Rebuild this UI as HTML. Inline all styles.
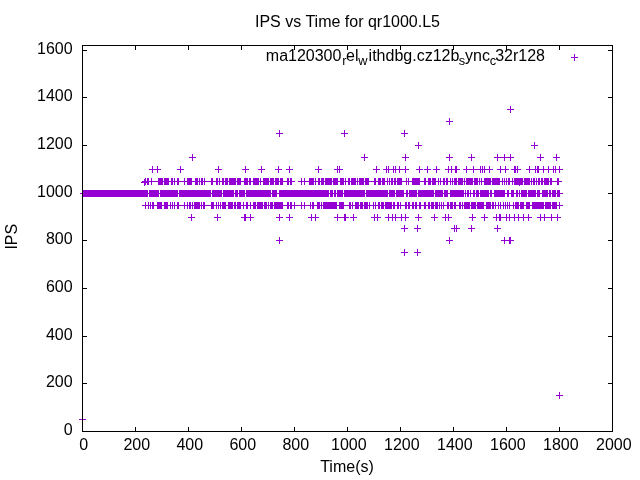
<!DOCTYPE html>
<html><head><meta charset="utf-8"><title>IPS vs Time</title>
<style>
html,body{margin:0;padding:0;background:#fff;}
svg{display:block;will-change:transform;}
text{font-family:"Liberation Sans",sans-serif;font-size:16px;fill:#000;}
</style></head><body>
<svg width="640" height="480" viewBox="0 0 640 480">
<rect x="0" y="0" width="640" height="480" fill="#fff"/>
<path d="M82.50 431.50h4.5M612.50 431.50h-4.5M82.50 383.50h4.5M612.50 383.50h-4.5M82.50 336.50h4.5M612.50 336.50h-4.5M82.50 288.50h4.5M612.50 288.50h-4.5M82.50 240.50h4.5M612.50 240.50h-4.5M82.50 193.50h4.5M612.50 193.50h-4.5M82.50 145.50h4.5M612.50 145.50h-4.5M82.50 97.50h4.5M612.50 97.50h-4.5M82.50 50.50h4.5M612.50 50.50h-4.5M82.50 431.50v-4.5M82.50 45.50v4.5M135.50 431.50v-4.5M135.50 45.50v4.5M188.50 431.50v-4.5M188.50 45.50v4.5M241.50 431.50v-4.5M241.50 45.50v4.5M294.50 431.50v-4.5M294.50 45.50v4.5M347.50 431.50v-4.5M347.50 45.50v4.5M400.50 431.50v-4.5M400.50 45.50v4.5M453.50 431.50v-4.5M453.50 45.50v4.5M506.50 431.50v-4.5M506.50 45.50v4.5M559.50 431.50v-4.5M559.50 45.50v4.5M612.50 431.50v-4.5M612.50 45.50v4.5" fill="none" stroke="#000" stroke-width="1"/>
<path id="pts" fill="#9400d3" stroke="none" shape-rendering="crispEdges" d="M574 54h1v3h-1zM574 58h1v3h-1zM571 57h7v1h-7zM510 106h1v3h-1zM510 110h1v3h-1zM510 154h1v3h-1zM510 158h1v3h-1zM507 109h7v1h-7zM449 118h1v3h-1zM449 122h1v3h-1zM449 154h1v3h-1zM449 158h1v3h-1zM449 237h1v3h-1zM449 241h1v3h-1zM446 121h7v1h-7zM446 157h7v1h-7zM446 240h7v1h-7zM279 130h1v3h-1zM279 134h1v3h-1zM279 214h1v3h-1zM279 218h1v3h-1zM279 237h1v3h-1zM279 241h1v3h-1zM344 130h1v3h-1zM344 134h1v3h-1zM404 130h1v3h-1zM404 134h1v3h-1zM404 225h1v3h-1zM404 229h1v3h-1zM404 249h1v3h-1zM404 253h1v3h-1zM276 133h7v1h-7zM276 217h7v1h-7zM276 240h7v1h-7zM341 133h7v1h-7zM401 133h7v1h-7zM401 228h7v1h-7zM401 252h7v1h-7zM418 142h1v3h-1zM418 146h1v3h-1zM418 214h1v3h-1zM418 218h1v3h-1zM534 142h1v3h-1zM534 146h1v3h-1zM415 145h7v1h-7zM415 217h7v1h-7zM531 145h7v1h-7zM192 154h1v3h-1zM192 158h1v3h-1zM192 202h1v3h-1zM192 206h1v3h-1zM364 154h1v3h-1zM364 158h1v3h-1zM405 154h1v3h-1zM405 158h1v3h-1zM405 166h1v3h-1zM405 170h1v3h-1zM405 214h1v3h-1zM405 218h1v3h-1zM471 154h1v3h-1zM471 158h1v3h-1zM471 225h1v3h-1zM471 229h1v3h-1zM497 154h1v3h-1zM497 158h1v3h-1zM497 225h1v3h-1zM497 229h1v3h-1zM504 154h1v3h-1zM504 158h1v3h-1zM504 178h1v3h-1zM504 182h1v3h-1zM504 237h1v3h-1zM504 241h1v3h-1zM540 154h1v3h-1zM540 158h1v3h-1zM540 214h1v3h-1zM540 218h1v3h-1zM556 154h1v3h-1zM556 158h1v3h-1zM189 157h7v1h-7zM361 157h7v1h-7zM402 157h7v1h-7zM468 157h7v1h-7zM468 228h7v1h-7zM494 157h20v1h-20zM537 157h7v1h-7zM553 157h7v1h-7zM152 166h1v3h-1zM152 170h1v3h-1zM157 166h1v3h-1zM157 170h1v3h-1zM180 166h1v3h-1zM180 170h1v3h-1zM218 166h1v3h-1zM218 170h1v3h-1zM218 202h1v3h-1zM218 206h1v3h-1zM245 166h1v3h-1zM245 170h1v3h-1zM261 166h1v3h-1zM261 170h1v3h-1zM278 166h1v3h-1zM278 170h1v3h-1zM289 166h1v3h-1zM289 170h1v3h-1zM289 214h1v3h-1zM289 218h1v3h-1zM318 166h1v3h-1zM318 170h1v3h-1zM337 166h1v3h-1zM337 170h1v3h-1zM337 214h1v3h-1zM337 218h1v3h-1zM339 166h1v3h-1zM339 170h1v3h-1zM376 166h1v3h-1zM376 170h1v3h-1zM386 166h1v3h-1zM386 170h1v3h-1zM388 166h1v3h-1zM388 170h1v3h-1zM388 214h1v3h-1zM388 218h1v3h-1zM393 166h1v3h-1zM393 170h1v3h-1zM395 166h1v3h-1zM395 170h1v3h-1zM395 214h1v3h-1zM395 218h1v3h-1zM399 166h1v3h-1zM399 170h1v3h-1zM419 166h1v3h-1zM419 170h1v3h-1zM427 166h1v3h-1zM427 170h1v3h-1zM436 166h1v3h-1zM436 170h1v3h-1zM448 166h1v3h-1zM448 170h1v3h-1zM448 214h1v3h-1zM448 218h1v3h-1zM451 166h1v3h-1zM451 170h1v3h-1zM455 166h2v3h-2zM455 170h2v3h-2zM466 166h1v3h-1zM466 170h1v3h-1zM473 166h1v3h-1zM473 170h1v3h-1zM480 166h1v3h-1zM480 170h1v3h-1zM482 166h1v3h-1zM482 170h1v3h-1zM484 166h1v3h-1zM484 170h1v3h-1zM484 214h1v3h-1zM484 218h1v3h-1zM489 166h1v3h-1zM489 170h1v3h-1zM500 166h1v3h-1zM500 170h1v3h-1zM500 202h1v3h-1zM500 206h1v3h-1zM505 166h1v3h-1zM505 170h1v3h-1zM505 202h1v3h-1zM505 206h1v3h-1zM514 166h2v3h-2zM514 170h2v3h-2zM517 166h1v3h-1zM517 170h1v3h-1zM529 166h1v3h-1zM529 170h1v3h-1zM535 166h1v3h-1zM535 170h1v3h-1zM537 166h2v3h-2zM537 170h2v3h-2zM543 166h1v3h-1zM543 170h1v3h-1zM548 166h1v3h-1zM548 170h1v3h-1zM553 166h1v3h-1zM553 170h1v3h-1zM555 166h1v3h-1zM555 170h1v3h-1zM559 166h1v3h-1zM559 170h1v3h-1zM559 202h1v3h-1zM559 206h1v3h-1zM559 392h1v3h-1zM559 396h1v3h-1zM149 169h12v1h-12zM177 169h7v1h-7zM215 169h7v1h-7zM242 169h7v1h-7zM258 169h7v1h-7zM275 169h7v1h-7zM286 169h7v1h-7zM286 217h7v1h-7zM315 169h7v1h-7zM334 169h9v1h-9zM373 169h7v1h-7zM383 169h26v1h-26zM416 169h7v1h-7zM424 169h7v1h-7zM433 169h7v1h-7zM445 169h15v1h-15zM463 169h30v1h-30zM497 169h12v1h-12zM511 169h10v1h-10zM526 169h37v1h-37zM145 178h1v1h-1zM145 202h1v3h-1zM145 206h1v3h-1zM147 178h2v3h-2zM147 183h2v2h-2zM151 178h1v3h-1zM151 182h1v3h-1zM158 178h5v3h-5zM158 182h5v3h-5zM164 178h5v3h-5zM164 182h5v3h-5zM171 178h2v3h-2zM171 182h2v3h-2zM174 178h1v3h-1zM174 182h1v3h-1zM174 202h1v3h-1zM174 206h1v3h-1zM177 178h2v3h-2zM177 182h2v3h-2zM177 202h2v3h-2zM177 206h2v3h-2zM184 178h1v3h-1zM184 182h1v3h-1zM184 202h1v3h-1zM184 206h1v3h-1zM187 178h5v3h-5zM187 182h5v3h-5zM195 178h3v3h-3zM195 182h3v3h-3zM199 178h1v3h-1zM199 182h1v3h-1zM201 178h2v3h-2zM201 182h2v3h-2zM204 178h1v3h-1zM204 182h1v3h-1zM211 178h2v3h-2zM211 182h2v3h-2zM216 178h2v3h-2zM216 182h2v3h-2zM219 178h1v3h-1zM219 182h1v3h-1zM222 178h2v3h-2zM222 182h2v3h-2zM225 178h3v3h-3zM225 182h3v3h-3zM229 178h7v3h-7zM229 182h7v3h-7zM237 178h4v3h-4zM237 182h4v3h-4zM237 202h4v3h-4zM237 206h4v3h-4zM244 178h4v3h-4zM244 182h4v3h-4zM249 178h2v3h-2zM249 182h2v3h-2zM253 178h6v3h-6zM253 182h6v3h-6zM260 178h1v3h-1zM260 182h1v3h-1zM263 178h6v3h-6zM263 182h6v3h-6zM270 178h4v3h-4zM270 182h4v3h-4zM275 178h4v3h-4zM275 182h4v3h-4zM280 178h3v3h-3zM280 182h3v3h-3zM287 178h2v3h-2zM287 182h2v3h-2zM287 202h2v3h-2zM287 206h2v3h-2zM290 178h2v3h-2zM290 182h2v3h-2zM290 202h2v3h-2zM290 206h2v3h-2zM301 178h1v3h-1zM301 182h1v3h-1zM301 202h1v3h-1zM301 206h1v3h-1zM304 178h1v3h-1zM304 182h1v3h-1zM304 202h1v3h-1zM304 206h1v3h-1zM309 178h5v3h-5zM309 182h5v3h-5zM315 178h1v3h-1zM315 182h1v3h-1zM315 214h1v3h-1zM315 218h1v3h-1zM318 178h2v3h-2zM318 182h2v3h-2zM321 178h3v3h-3zM321 182h3v3h-3zM325 178h7v3h-7zM325 182h7v3h-7zM333 178h5v3h-5zM333 182h5v3h-5zM340 178h4v3h-4zM340 182h4v3h-4zM345 178h1v3h-1zM345 182h1v3h-1zM348 178h2v3h-2zM348 182h2v3h-2zM351 178h5v3h-5zM351 182h5v3h-5zM357 178h1v3h-1zM357 182h1v3h-1zM359 178h5v3h-5zM359 182h5v3h-5zM365 178h4v3h-4zM365 182h4v3h-4zM374 178h2v3h-2zM374 182h2v3h-2zM378 178h3v3h-3zM378 182h3v3h-3zM382 178h3v3h-3zM382 182h3v3h-3zM387 178h1v3h-1zM387 182h1v3h-1zM389 178h1v3h-1zM389 182h1v3h-1zM391 178h2v3h-2zM391 182h2v3h-2zM394 178h2v3h-2zM394 182h2v3h-2zM397 178h5v3h-5zM397 182h5v3h-5zM406 178h1v3h-1zM406 182h1v3h-1zM408 178h1v3h-1zM408 182h1v3h-1zM412 178h8v3h-8zM412 182h8v3h-8zM424 178h2v3h-2zM424 182h2v3h-2zM424 202h2v3h-2zM424 206h2v3h-2zM428 178h3v3h-3zM428 182h3v3h-3zM432 178h4v3h-4zM432 182h4v3h-4zM438 178h1v3h-1zM438 182h1v3h-1zM440 178h1v3h-1zM440 182h1v3h-1zM443 178h2v3h-2zM443 182h2v3h-2zM446 178h2v3h-2zM446 182h2v3h-2zM450 178h1v3h-1zM450 182h1v3h-1zM452 178h1v3h-1zM452 182h1v3h-1zM454 178h3v3h-3zM454 182h3v3h-3zM458 178h5v3h-5zM458 182h5v3h-5zM464 178h1v3h-1zM464 182h1v3h-1zM466 178h7v3h-7zM466 182h7v3h-7zM474 178h4v3h-4zM474 182h4v3h-4zM479 178h1v3h-1zM479 182h1v3h-1zM481 178h1v3h-1zM481 182h1v3h-1zM484 178h7v3h-7zM484 182h7v3h-7zM492 178h8v3h-8zM492 182h8v3h-8zM502 178h1v3h-1zM502 182h1v3h-1zM506 178h1v3h-1zM506 182h1v3h-1zM506 214h1v3h-1zM506 218h1v3h-1zM508 178h2v3h-2zM508 182h2v3h-2zM512 178h1v3h-1zM512 182h1v3h-1zM514 178h9v3h-9zM514 182h9v3h-9zM524 178h6v3h-6zM524 182h6v3h-6zM531 178h1v3h-1zM531 182h1v3h-1zM533 178h2v3h-2zM533 182h2v3h-2zM536 178h1v3h-1zM536 182h1v3h-1zM538 178h2v3h-2zM538 182h2v3h-2zM541 178h2v3h-2zM541 182h2v3h-2zM544 178h5v3h-5zM544 182h5v3h-5zM550 178h2v3h-2zM550 182h2v3h-2zM557 178h2v3h-2zM557 182h2v3h-2zM144 179h2v2h-2zM144 183h2v2h-2zM142 181h153v1h-153zM298 181h264v1h-264zM141 182h8v1h-8zM144 185h1v1h-1zM519 185h1v1h-1zM519 190h1v3h-1zM519 194h1v3h-1zM83 190h65v3h-65zM83 194h65v3h-65zM149 190h10v3h-10zM149 194h10v3h-10zM160 190h18v3h-18zM160 194h18v3h-18zM179 190h32v3h-32zM179 194h32v3h-32zM212 190h10v3h-10zM212 194h10v3h-10zM223 190h11v3h-11zM223 194h11v3h-11zM235 190h3v3h-3zM235 194h3v3h-3zM239 190h6v3h-6zM239 194h6v3h-6zM246 190h25v3h-25zM246 194h25v3h-25zM272 190h5v3h-5zM272 194h5v3h-5zM279 190h50v3h-50zM279 194h50v3h-50zM330 190h3v3h-3zM330 194h3v3h-3zM334 190h2v3h-2zM334 194h2v3h-2zM337 190h6v3h-6zM337 194h6v3h-6zM344 190h21v3h-21zM344 194h21v3h-21zM366 190h22v3h-22zM366 194h22v3h-22zM389 190h6v3h-6zM389 194h6v3h-6zM396 190h8v3h-8zM396 194h8v3h-8zM406 190h2v3h-2zM406 194h2v3h-2zM409 190h8v3h-8zM409 194h8v3h-8zM418 190h16v3h-16zM418 194h16v3h-16zM435 190h8v3h-8zM435 194h8v3h-8zM444 190h4v3h-4zM444 194h4v3h-4zM450 190h14v3h-14zM450 194h14v3h-14zM465 190h1v3h-1zM465 194h1v3h-1zM467 190h2v3h-2zM467 194h2v3h-2zM470 190h1v3h-1zM470 194h1v3h-1zM473 190h2v3h-2zM473 194h2v3h-2zM476 190h3v3h-3zM476 194h3v3h-3zM480 190h9v3h-9zM480 194h9v3h-9zM490 190h2v3h-2zM490 194h2v3h-2zM494 190h11v3h-11zM494 194h11v3h-11zM507 190h2v3h-2zM507 194h2v3h-2zM511 190h3v3h-3zM511 194h3v3h-3zM516 190h2v3h-2zM516 194h2v3h-2zM521 190h6v3h-6zM521 194h6v3h-6zM528 190h8v3h-8zM528 194h8v3h-8zM537 190h3v3h-3zM537 194h3v3h-3zM542 190h6v3h-6zM542 194h6v3h-6zM549 190h2v3h-2zM549 194h2v3h-2zM552 190h4v3h-4zM552 194h4v3h-4zM557 190h3v3h-3zM557 194h3v3h-3zM80 193h483v1h-483zM148 202h1v3h-1zM148 206h1v3h-1zM150 202h1v3h-1zM150 206h1v3h-1zM152 202h2v3h-2zM152 206h2v3h-2zM157 202h5v3h-5zM157 206h5v3h-5zM164 202h4v3h-4zM164 206h4v3h-4zM170 202h1v3h-1zM170 206h1v3h-1zM172 202h1v3h-1zM172 206h1v3h-1zM187 202h1v3h-1zM187 206h1v3h-1zM189 202h2v3h-2zM189 206h2v3h-2zM194 202h6v3h-6zM194 206h6v3h-6zM201 202h1v3h-1zM201 206h1v3h-1zM203 202h2v3h-2zM203 206h2v3h-2zM211 202h3v3h-3zM211 206h3v3h-3zM216 202h1v3h-1zM216 206h1v3h-1zM220 202h1v3h-1zM220 206h1v3h-1zM222 202h4v3h-4zM222 206h4v3h-4zM228 202h5v3h-5zM228 206h5v3h-5zM234 202h2v3h-2zM234 206h2v3h-2zM243 202h1v3h-1zM243 206h1v3h-1zM246 202h2v3h-2zM246 206h2v3h-2zM250 202h1v3h-1zM250 206h1v3h-1zM250 214h1v3h-1zM250 218h1v3h-1zM253 202h3v3h-3zM253 206h3v3h-3zM257 202h6v3h-6zM257 206h6v3h-6zM264 202h3v3h-3zM264 206h3v3h-3zM268 202h1v3h-1zM268 206h1v3h-1zM270 202h3v3h-3zM270 206h3v3h-3zM274 202h9v3h-9zM274 206h9v3h-9zM294 202h1v3h-1zM294 206h1v3h-1zM310 202h1v3h-1zM310 206h1v3h-1zM312 202h2v3h-2zM312 206h2v3h-2zM317 202h3v3h-3zM317 206h3v3h-3zM321 202h1v3h-1zM321 206h1v3h-1zM323 202h14v3h-14zM323 206h14v3h-14zM339 202h5v3h-5zM339 206h5v3h-5zM349 202h2v3h-2zM349 206h2v3h-2zM352 202h1v3h-1zM352 206h1v3h-1zM355 202h4v3h-4zM355 206h4v3h-4zM360 202h3v3h-3zM360 206h3v3h-3zM364 202h4v3h-4zM364 206h4v3h-4zM369 202h1v3h-1zM369 206h1v3h-1zM373 202h1v3h-1zM373 206h1v3h-1zM375 202h1v3h-1zM375 206h1v3h-1zM378 202h2v3h-2zM378 206h2v3h-2zM381 202h3v3h-3zM381 206h3v3h-3zM385 202h7v3h-7zM385 206h7v3h-7zM393 202h2v3h-2zM393 206h2v3h-2zM397 202h2v3h-2zM397 206h2v3h-2zM400 202h1v3h-1zM400 206h1v3h-1zM405 202h2v3h-2zM405 206h2v3h-2zM408 202h2v3h-2zM408 206h2v3h-2zM412 202h2v3h-2zM412 206h2v3h-2zM415 202h2v3h-2zM415 206h2v3h-2zM419 202h2v3h-2zM419 206h2v3h-2zM428 202h2v3h-2zM428 206h2v3h-2zM431 202h3v3h-3zM431 206h3v3h-3zM435 202h3v3h-3zM435 206h3v3h-3zM439 202h1v3h-1zM439 206h1v3h-1zM441 202h1v3h-1zM441 206h1v3h-1zM443 202h1v3h-1zM443 206h1v3h-1zM447 202h2v3h-2zM447 206h2v3h-2zM450 202h3v3h-3zM450 206h3v3h-3zM454 202h2v3h-2zM454 206h2v3h-2zM459 202h2v3h-2zM459 206h2v3h-2zM462 202h1v3h-1zM462 206h1v3h-1zM464 202h6v3h-6zM464 206h6v3h-6zM471 202h5v3h-5zM471 206h5v3h-5zM477 202h7v3h-7zM477 206h7v3h-7zM486 202h5v3h-5zM486 206h5v3h-5zM492 202h2v3h-2zM492 206h2v3h-2zM495 202h1v3h-1zM495 206h1v3h-1zM498 202h1v3h-1zM498 206h1v3h-1zM503 202h1v3h-1zM503 206h1v3h-1zM507 202h1v3h-1zM507 206h1v3h-1zM509 202h1v3h-1zM509 206h1v3h-1zM509 214h1v3h-1zM509 218h1v3h-1zM513 202h1v3h-1zM513 206h1v3h-1zM515 202h4v3h-4zM515 206h4v3h-4zM520 202h4v3h-4zM520 206h4v3h-4zM526 202h4v3h-4zM526 206h4v3h-4zM532 202h12v3h-12zM532 206h12v3h-12zM545 202h6v3h-6zM545 206h6v3h-6zM552 202h5v3h-5zM552 206h5v3h-5zM142 205h421v1h-421zM191 214h1v3h-1zM191 218h1v3h-1zM217 214h1v3h-1zM217 218h1v3h-1zM244 214h2v3h-2zM244 218h2v3h-2zM311 214h1v3h-1zM311 218h1v3h-1zM344 214h2v3h-2zM344 218h2v3h-2zM353 214h1v3h-1zM353 218h1v3h-1zM374 214h1v3h-1zM374 218h1v3h-1zM377 214h1v3h-1zM377 218h1v3h-1zM392 214h1v3h-1zM392 218h1v3h-1zM401 214h1v3h-1zM401 218h1v3h-1zM434 214h1v3h-1zM434 218h1v3h-1zM445 214h1v3h-1zM445 218h1v3h-1zM472 214h1v3h-1zM472 218h1v3h-1zM496 214h1v3h-1zM496 218h1v3h-1zM499 214h2v3h-2zM499 218h2v3h-2zM514 214h1v3h-1zM514 218h1v3h-1zM518 214h1v3h-1zM518 218h1v3h-1zM523 214h1v3h-1zM523 218h1v3h-1zM528 214h1v3h-1zM528 218h1v3h-1zM544 214h1v3h-1zM544 218h1v3h-1zM551 214h1v3h-1zM551 218h1v3h-1zM557 214h1v3h-1zM557 218h1v3h-1zM188 217h7v1h-7zM214 217h7v1h-7zM241 217h13v1h-13zM308 217h11v1h-11zM334 217h15v1h-15zM350 217h7v1h-7zM371 217h10v1h-10zM385 217h24v1h-24zM431 217h7v1h-7zM442 217h10v1h-10zM469 217h7v1h-7zM481 217h7v1h-7zM493 217h39v1h-39zM537 217h24v1h-24zM417 225h1v3h-1zM417 229h1v3h-1zM417 249h1v3h-1zM417 253h1v3h-1zM454 225h1v3h-1zM454 229h1v3h-1zM456 225h1v3h-1zM456 229h1v3h-1zM414 228h7v1h-7zM414 252h7v1h-7zM451 228h9v1h-9zM494 228h7v1h-7zM509 237h2v3h-2zM509 241h2v3h-2zM501 240h13v1h-13zM556 395h7v1h-7zM82 416h1v3h-1zM82 420h1v3h-1zM79 419h7v1h-7z"/>
<rect x="82.5" y="45.5" width="530.0" height="386.0" fill="none" stroke="#000" stroke-width="1"/>
<text x="72.6" y="435.00" text-anchor="end">0</text>
<text x="72.6" y="387.00" text-anchor="end">200</text>
<text x="72.6" y="340.00" text-anchor="end">400</text>
<text x="72.6" y="292.00" text-anchor="end">600</text>
<text x="72.6" y="244.00" text-anchor="end">800</text>
<text x="72.6" y="197.00" text-anchor="end">1000</text>
<text x="72.6" y="149.00" text-anchor="end">1200</text>
<text x="72.6" y="101.00" text-anchor="end">1400</text>
<text x="72.6" y="54.00" text-anchor="end">1600</text>
<text x="83.80" y="449.5" text-anchor="middle">0</text>
<text x="136.80" y="449.5" text-anchor="middle">200</text>
<text x="189.80" y="449.5" text-anchor="middle">400</text>
<text x="242.80" y="449.5" text-anchor="middle">600</text>
<text x="295.80" y="449.5" text-anchor="middle">800</text>
<text x="348.80" y="449.5" text-anchor="middle">1000</text>
<text x="401.80" y="449.5" text-anchor="middle">1200</text>
<text x="454.80" y="449.5" text-anchor="middle">1400</text>
<text x="507.80" y="449.5" text-anchor="middle">1600</text>
<text x="560.80" y="449.5" text-anchor="middle">1800</text>
<text x="613.80" y="449.5" text-anchor="middle">2000</text>
<text x="347.5" y="27" text-anchor="middle">IPS vs Time for qr1000.L5</text>
<text x="347" y="471.6" text-anchor="middle">Time(s)</text>
<text transform="translate(16.5,236.7) rotate(-90)" text-anchor="middle">IPS</text>
<text x="265.8" y="60.5">ma120300<tspan font-size="12.8px" dy="4.8" dx="0.9">r</tspan><tspan dy="-4.8" dx="-0.5">el</tspan><tspan font-size="12.8px" dy="4.8" dx="-0.4">w</tspan><tspan dy="-4.8" dx="1.2">ithdbg.cz12b</tspan><tspan font-size="12.8px" dy="4.8" dx="-0.5">s</tspan><tspan dy="-4.8" dx="-0.2">ync</tspan><tspan font-size="12.8px" dy="4.8" dx="-0.2">c</tspan><tspan dy="-4.8" dx="-1.0">32r128</tspan></text>
</svg>
</body></html>
